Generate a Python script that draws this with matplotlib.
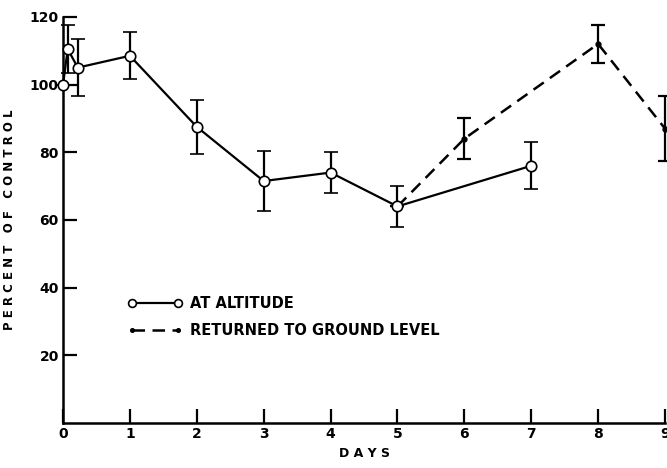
import matplotlib.pyplot as plt

# dados
dias_alt = [0, 0.07, 0.22, 1, 2, 3, 4, 5, 7]
valor_alt = [100, 110.5, 105, 108.5, 87.5, 71.5, 74, 64, 76]
erro_alt = [0, 7, 8.5, 7, 8, 9, 6, 6, 7]

dias_solo = [5, 6, 8, 9]
valor_solo = [64, 84, 112, 87]
erro_solo = [0, 6, 5.5, 9.5]

ticks_x = [0, 1, 2, 3, 4, 5, 6, 7, 8, 9]
ticks_y = [20, 40, 60, 80, 100, 120]

plt.rcParams['font.family'] = 'DejaVu Sans'
plt.rcParams['font.weight'] = 'bold'

fig = plt.figure(figsize=(6.67, 4.68), dpi=100)
ax = fig.add_axes([0.0945, 0.096, 0.9025, 0.868])

# linha de altitude
ax.errorbar(dias_alt, valor_alt, yerr=erro_alt, color='black', lw=1.6,
            marker='o', ms=7.5, mfc='white', mec='black', mew=1.2,
            capsize=5, elinewidth=1.6, capthick=1.6, clip_on=False,
            label='AT ALTITUDE', zorder=3)

# retorno ao nivel do solo
ax.errorbar(dias_solo, valor_solo, yerr=erro_solo, color='black', lw=1.8,
            ls=(0, (5, 3)), marker='o', ms=3.5, mfc='black', mec='black',
            capsize=5, elinewidth=1.6, capthick=1.6, clip_on=False,
            label='RETURNED TO GROUND LEVEL', zorder=2)

ax.set_xlim(0, 9)
ax.set_ylim(0, 120)
ax.set_xticks(ticks_x)
ax.set_yticks(ticks_y)
ax.tick_params(direction='in', length=10, width=1.6, labelsize=10, pad=3)
ax.spines['top'].set_visible(False)
ax.spines['right'].set_visible(False)
ax.spines['left'].set_linewidth(1.8)
ax.spines['bottom'].set_linewidth(1.8)

ax.set_xlabel('D A Y S', fontsize=9, fontweight='bold', labelpad=4)
ax.set_ylabel('P E R C E N T   O F   C O N T R O L', fontsize=8.5,
              fontweight='bold', labelpad=10)

h, l = ax.get_legend_handles_labels()
h = [x[0] for x in h]
ax.legend(h, l, loc='upper left', bbox_to_anchor=(0.085, 0.345), frameon=False,
          numpoints=2, handlelength=3.8, fontsize=10.5, labelspacing=0.85,
          handletextpad=0.5, markerscale=0.75)

plt.savefig('out.png', dpi=100)
